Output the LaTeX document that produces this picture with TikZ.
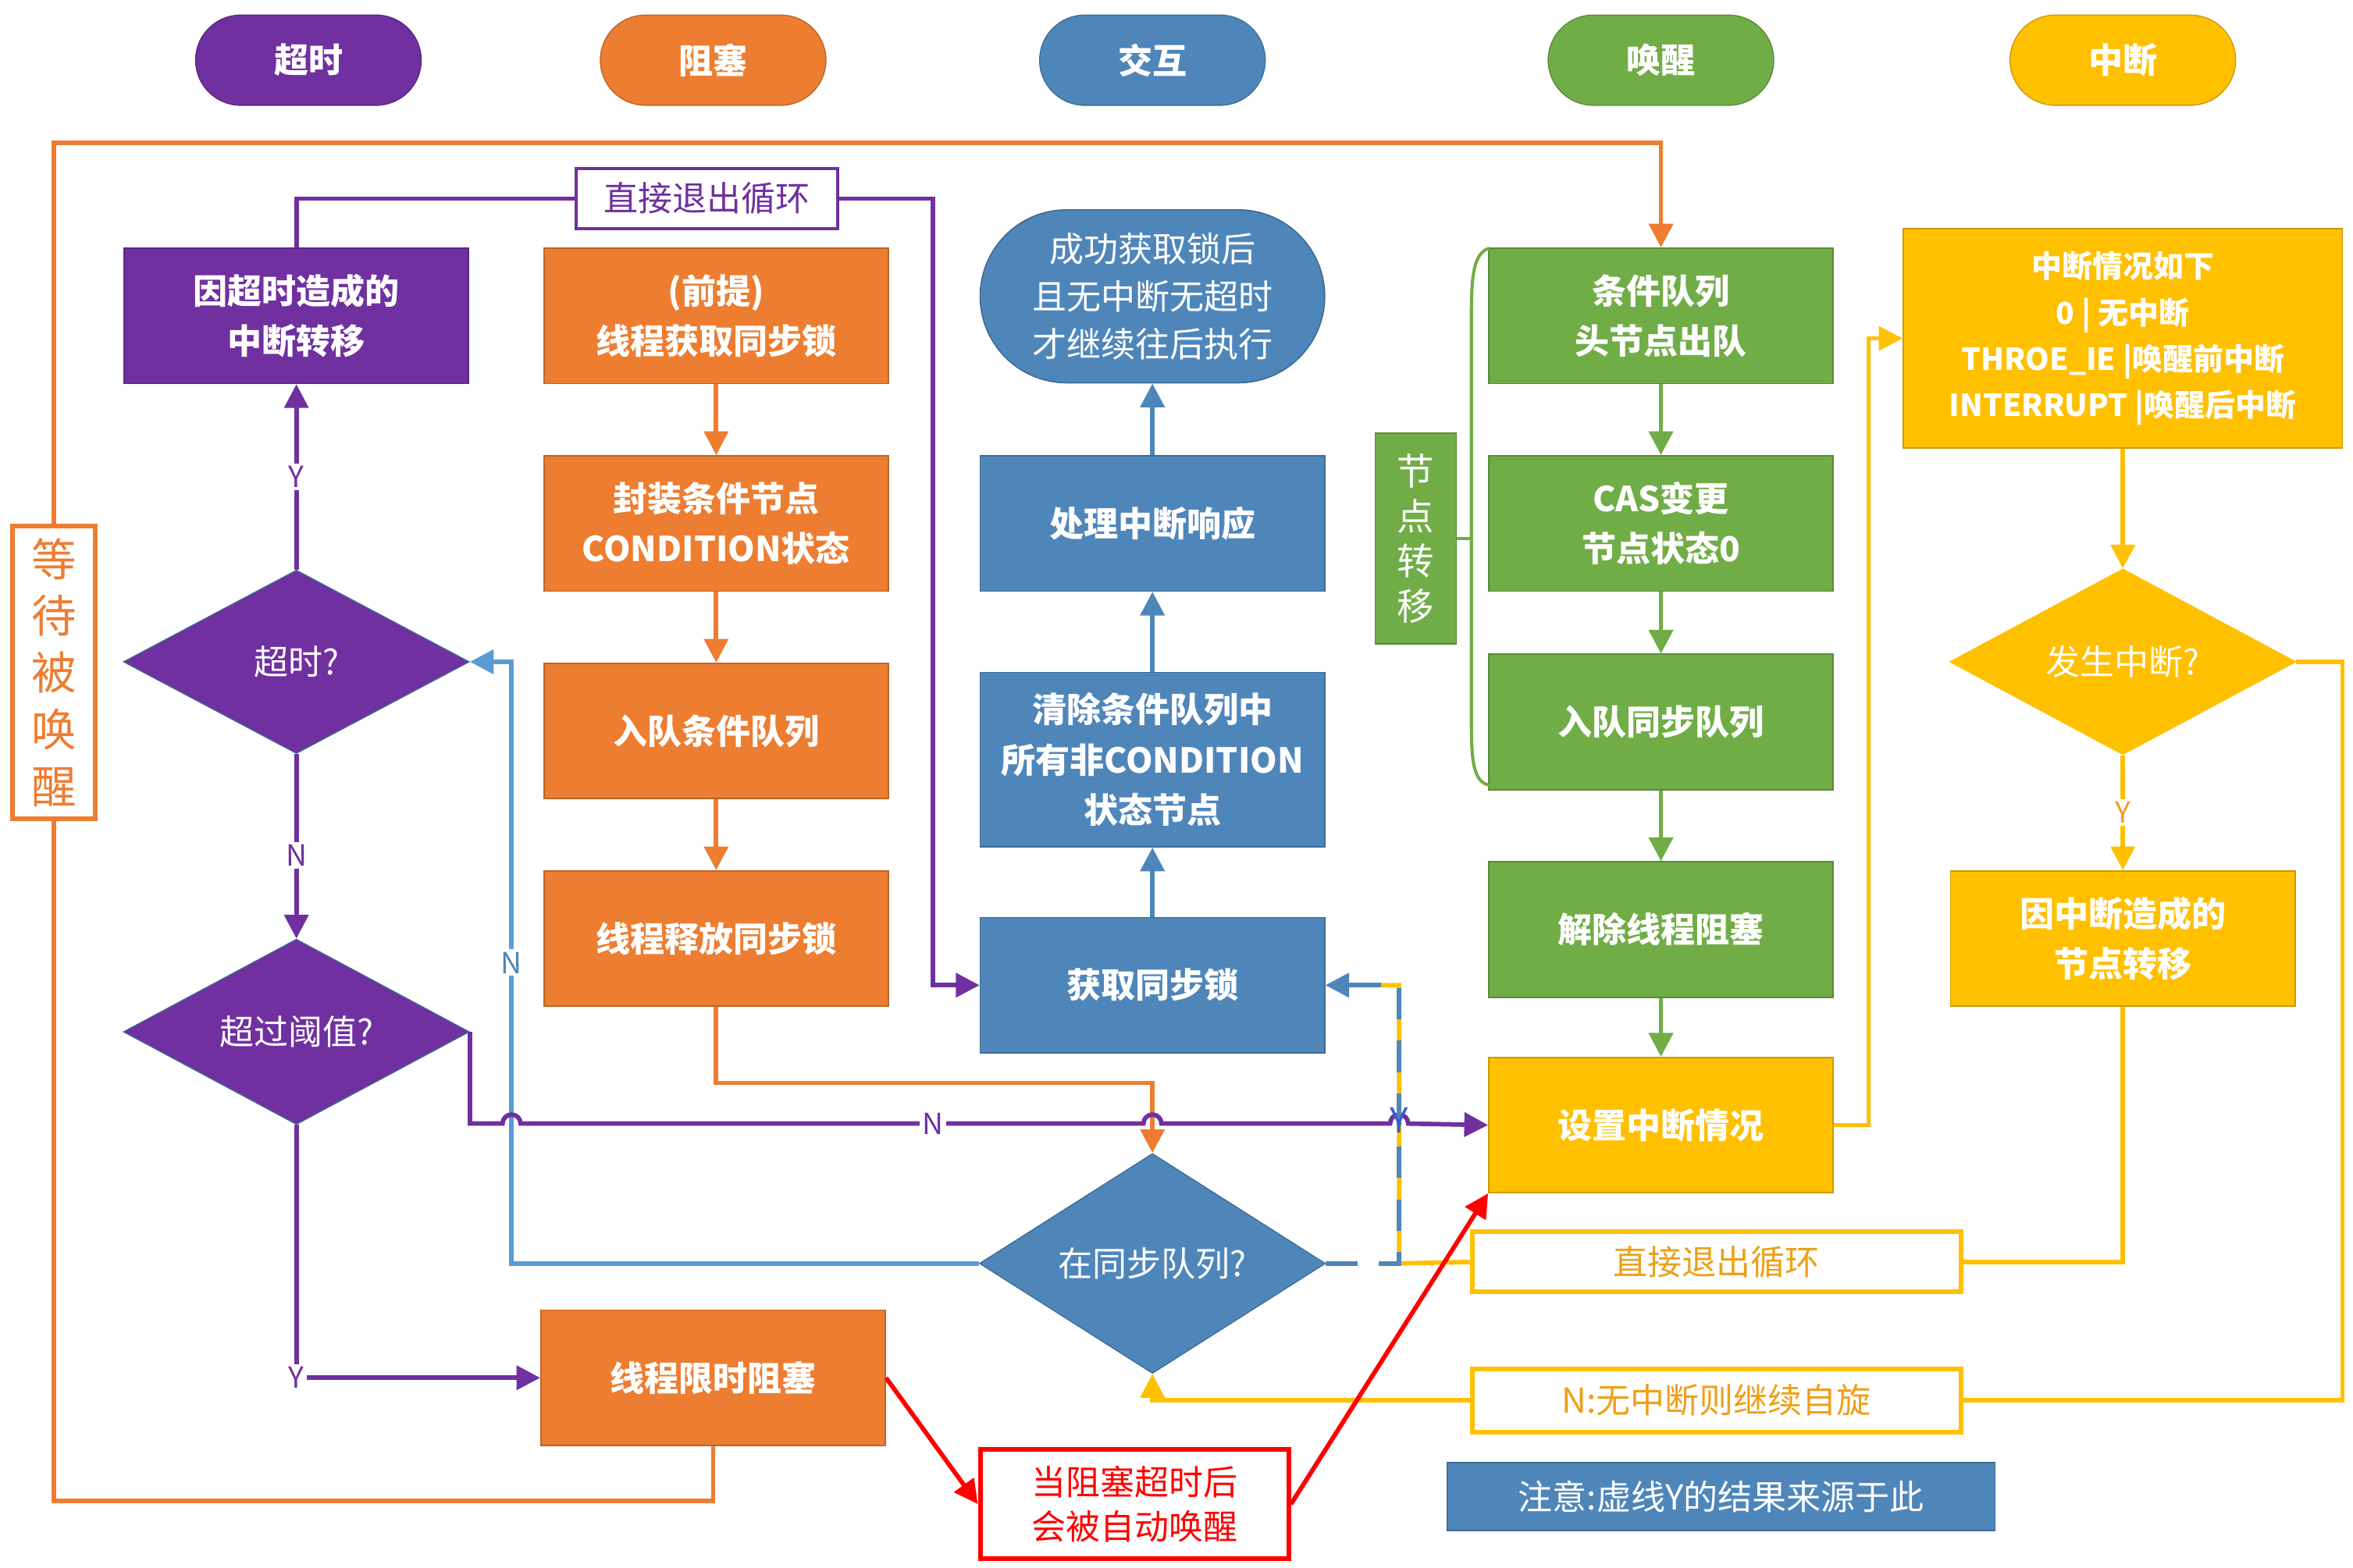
\documentclass[tikz,border=0pt]{standalone}
\usepackage{fontspec}
\setmainfont{Noto Sans CJK SC}
\newfontfamily\cjkb{Noto Sans CJK SC}[FakeBold=0]
\usetikzlibrary{shapes.geometric,arrows.meta}
\definecolor{cP}{HTML}{7030A0}
\definecolor{cO}{HTML}{ED7D31}
\definecolor{cB}{HTML}{4F86BA}
\definecolor{cLB}{HTML}{5B9BD5}
\definecolor{cG}{HTML}{70AD47}
\definecolor{cY}{HTML}{FFC000}
\definecolor{cYT}{HTML}{EDA01A}
\definecolor{cR}{HTML}{FF0000}
\tikzset{
  box/.style={rectangle,minimum width=4.58cm,minimum height=1.8cm,inner sep=2pt,align=center,text=white,font=\bfseries\fontsize{13}{19}\selectfont,draw=#1!80!black,fill=#1,line width=0.5pt},
  pill/.style={rectangle,rounded corners=0.6cm,minimum width=3cm,minimum height=1.2cm,text=white,font=\bfseries\fontsize{13}{16}\selectfont,fill=#1,draw=#1!80!black},
  dia/.style={diamond,minimum width=4.6cm,minimum height=2.44cm,inner sep=0pt,fill=#1,draw=cB!80!black,text=white,font=\fontsize{13}{16}\selectfont},
  obox/.style={rectangle,draw=#1,line width=1.8pt,fill=white,align=center,font=\fontsize{13}{16}\selectfont},
  ln/.style={line width=1.7pt,draw=#1,-{Triangle[length=9pt,width=9pt]},color=#1},
  pl/.style={line width=1.7pt,draw=#1},
  lab/.style={fill=white,inner sep=1pt,font=\fontsize{11}{12}\selectfont,text=#1},
}
\begin{document}
\begin{tikzpicture}[x=0.02cm,y=-0.02cm]
\useasboundingbox (0,0) rectangle (1564,1042);
% headers
\node[pill=cP] (h1) at (205,40) {超时};
\node[pill=cO] (h2) at (474,40) {阻塞};
\node[pill=cB] (h3) at (766,40) {交互};
\node[pill=cG] (h4) at (1104,40) {唤醒};
\node[pill=cY] (h5) at (1411,40) {中断};
% purple
\node[box=cP] (tj) at (197,210) {因超时造成的\\中断转移};
\node[dia=cP] (to) at (197,440) {超时?};
\node[dia=cP] (thr) at (197,686) {超过阈值?};
% orange
\node[box=cO] (pre) at (476,210) {(前提)\\线程获取同步锁};
\node[box=cO] (enc) at (476,348) {封装条件节点\\CONDITION状态};
\node[box=cO] (enq) at (476,486) {入队条件队列};
\node[box=cO] (rel) at (476,624) {线程释放同步锁};
\node[box=cO] (blk) at (474,916) {线程限时阻塞};
% blue
\node[box=cB,rounded corners=1.15cm,minimum height=2.3cm,font=\fontsize{13}{18}\selectfont] (ok) at (766,197) {成功获取锁后\\且无中断无超时\\才继续往后执行};
\node[box=cB] (hdl) at (766,348) {处理中断响应};
\node[box=cB,minimum height=2.32cm] (clr) at (766,505) {清除条件队列中\\所有非CONDITION\\状态节点};
\node[box=cB] (acq) at (766,655) {获取同步锁};
\node[dia=cB] (sync) at (766,840) {在同步队列?};
% green
\node[box=cG] (cq) at (1104,210) {条件队列\\头节点出队};
\node[box=cG] (cas) at (1104,348) {CAS变更\\节点状态0};
\node[box=cG] (sq) at (1104,480) {入队同步队列};
\node[box=cG] (unb) at (1104,618) {解除线程阻塞};
\node[box=cY] (set) at (1104,748) {设置中断情况};
\node[box=cG,minimum width=1.08cm,minimum height=2.8cm,inner sep=0pt,font=\fontsize{14}{17}\selectfont] (nt) at (941,358) {节\\点\\转\\移};
\draw[pl=cG,line width=1.2pt] (990,165) .. controls (979,168) and (978,185) .. (978,210) -- (978,480) .. controls (978,505) and (979,520) .. (990,522);
\draw[pl=cG,line width=1.2pt] (nt.east) -- (978,358);
% yellow
\node[box=cY,minimum width=5.84cm,minimum height=2.92cm,font=\bfseries\fontsize{11.5}{17.5}\selectfont] (inf) at (1411,225) {中断情况如下\\0 | 无中断\\THROE\_IE |唤醒前中断\\INTERRUPT |唤醒后中断};
\node[dia=cY,draw=cY] (occ) at (1411,440) {发生中断?};
\node[box=cY] (ij) at (1411,624) {因中断造成的\\节点转移};
% outline boxes
\node[obox=cP,minimum width=3.48cm,minimum height=0.8cm,text=cP,line width=1.2pt] (ex1) at (470,132) {直接退出循环};
\node[obox=cO,minimum width=1.1cm,minimum height=3.9cm,text=cO,font=\fontsize{17}{21.5}\selectfont] (wait) at (36,447) {等\\待\\被\\唤\\醒};
\node[obox=cY,minimum width=6.5cm,minimum height=0.8cm,text=cYT] (ex2) at (1141,839) {直接退出循环};
\node[obox=cY,minimum width=6.5cm,minimum height=0.84cm,text=cYT] (nb) at (1141,931) {N:无中断则继续自旋};
\node[rectangle,fill=cB,draw=cB!80!black,minimum width=7.28cm,minimum height=0.9cm,font=\fontsize{13}{16}\selectfont,text=white] (note) at (1144,995) {注意:虚线Y的结果来源于此};
\node[obox=cR,minimum width=4.1cm,minimum height=1.45cm,text=cR,font=\fontsize{13}{17}\selectfont] (red) at (754,1000) {当阻塞超时后\\会被自动唤醒};
% orange big loop
\draw[ln=cO] (wait.north) -- (36,95) -| (cq.north);
\draw[pl=cO] (blk.south) -- (474,998) -| (wait.south);
% orange chain
\draw[ln=cO] (pre) -- (enc);
\draw[ln=cO] (enc) -- (enq);
\draw[ln=cO] (enq) -- (rel);
\draw[ln=cO] (rel.south) -- (476,720) -| (sync.north);
% blue chain
\draw[ln=cB] (acq) -- (clr);
\draw[ln=cB] (clr) -- (hdl);
\draw[ln=cB] (hdl) -- (ok);
% green chain
\draw[ln=cG] (cq) -- (cas);
\draw[ln=cG] (cas) -- (sq);
\draw[ln=cG] (sq) -- (unb);
\draw[ln=cG] (unb) -- (set);
% purple
\draw[pl=cP] (tj.north) |- (ex1.west);
\draw[ln=cP] (ex1.east) -- (620,132) |- (acq.west);
\draw[ln=cP] (to.north) -- node[lab=cP,pos=0.5]{Y} (tj.south);
\draw[ln=cP] (to.south) -- node[lab=cP,pos=0.55]{N} (thr.north);
\draw[ln=cP] (thr.south) |- node[lab=cP,pos=0.5]{Y} (blk.west);
% light blue
\draw[ln=cLB] (sync.west) -| node[lab=cB,pos=0.75]{N} (340,440) -- (to.east);
% purple N line with jumps
\draw[ln=cP] (thr.east) |- (334,747) arc[start angle=180,end angle=0,radius=0.12cm] -- (760,747) arc[start angle=180,end angle=0,radius=0.12cm] -- (924,747) arc[start angle=180,end angle=0,radius=0.12cm] -- (set.west);
\node[lab=cP] (nl) at (620,747) {N};
% yellow paths
\draw[pl=cY] (ij.south) |- (ex2.east);
\draw[pl=cY] (ex2.west) -- (930,840) -- (930,655) -- (895,655);
\draw[ln=cB,dash pattern=on 12pt off 8pt] (sync.east) -- (930,840) -- (930,655) -- (acq.east);
\node[text=cB!70!blue,font=\fontsize{13}{14}\selectfont,inner sep=0pt] (yl) at (930,745) {Y};
\draw[ln=cY] (set.east) -- (1242,748) |- (inf.west);
\draw[ln=cY] (inf.south) -- (occ.north);
\draw[ln=cY] (occ.south) -- node[lab=cYT,pos=0.5]{Y} (ij.north);
\draw[pl=cY] (occ.east) -- (1557,440) |- (nb.east);
\draw[ln=cY] (nb.west) -| (sync.south);
% red
\draw[ln=cR] (blk.east) -- (red.west);
\draw[ln=cR] (red.east) -- (set.south west);
\end{tikzpicture}
\end{document}
